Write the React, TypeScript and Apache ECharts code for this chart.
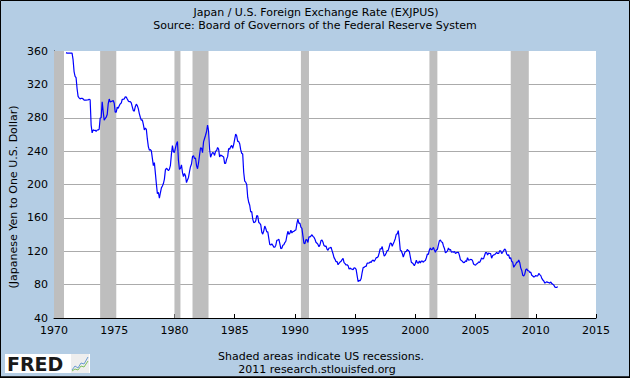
import React, { useEffect, useRef } from "react";
import * as echarts from "echarts";

// Monthly Japanese yen per U.S. dollar, Jan 1971 onward
const yen1971to1979 = [
  358.0, 357.5, 357.5, 357.5, 357.4, 357.4, 357.4, 349.6, 335.4, 329.6, 328.0, 314.8,
  305.6, 303.9, 302.6, 303.4, 303.2, 302.6, 301.1, 301.1, 301.2, 301.3, 301.4, 302.1,
  301.6, 271.2, 261.9, 265.5, 264.7, 265.0, 263.6, 265.3, 265.4, 266.3, 279.6, 280.0,
  299.0, 287.6, 277.1, 279.1, 280.6, 283.8, 296.6, 302.4, 298.8, 299.5, 299.9, 300.7,
  297.4, 286.6, 286.6, 292.6, 291.4, 294.3, 296.6, 297.6, 302.2, 302.1, 302.6, 305.2,
  304.7, 302.4, 300.2, 299.3, 299.3, 297.7, 293.1, 288.7, 287.8, 293.3, 296.2, 294.6,
  290.9, 285.0, 280.6, 277.0, 277.6, 272.0, 265.5, 267.6, 266.0, 254.6, 245.4, 241.2,
  241.9, 240.3, 231.4, 222.6, 226.2, 213.6, 200.6, 189.0, 190.7, 183.5, 190.1, 196.0,
  198.2, 201.1, 206.5, 217.6, 219.4, 218.3, 216.5, 218.4, 223.0, 236.4, 246.6, 239.3,
];
const yen1980s = [
  238.4, 243.8, 248.7, 251.6, 228.8, 218.0, 219.4, 223.5, 214.3, 209.6, 213.2, 210.6,
  202.2, 205.5, 208.5, 215.3, 221.3, 224.6, 233.5, 234.4, 231.1, 231.8, 222.7, 218.9,
  225.8, 235.2, 244.0, 243.5, 238.2, 251.1, 255.1, 259.0, 263.5, 271.3, 264.1, 242.5,
  232.7, 236.0, 238.3, 237.7, 234.8, 240.1, 240.5, 244.4, 242.5, 233.1, 235.2, 234.6,
  233.9, 233.1, 225.4, 225.2, 230.4, 233.4, 243.1, 242.2, 245.2, 246.9, 243.3, 247.9,
  254.2, 260.5, 258.4, 251.7, 251.6, 248.9, 241.7, 237.5, 236.5, 214.7, 204.1, 202.8,
  200.1, 184.8, 178.7, 175.1, 167.0, 167.5, 158.6, 154.2, 154.7, 156.5, 162.8, 162.1,
  154.5, 153.5, 151.6, 142.9, 140.5, 144.5, 150.2, 147.3, 143.3, 143.3, 135.4, 128.0,
  127.4, 129.0, 127.1, 124.9, 124.8, 127.2, 133.1, 133.5, 134.4, 129.1, 123.2, 123.6,
  127.2, 127.8, 130.4, 132.0, 138.4, 143.9, 140.4, 141.5, 145.1, 141.9, 143.5, 143.7,
];
const yen1990s = [
  145.1, 145.5, 153.2, 158.5, 153.5, 153.7, 149.0, 147.5, 138.4, 129.6, 129.2, 133.9,
  133.7, 130.5, 137.4, 137.1, 138.2, 139.8, 137.8, 136.8, 134.3, 130.8, 129.6, 128.1,
  125.5, 127.6, 132.8, 133.5, 130.8, 126.8, 125.9, 126.3, 122.6, 121.1, 123.9, 123.9,
  125.0, 120.8, 117.0, 112.4, 110.3, 107.4, 107.7, 103.8, 105.6, 107.0, 107.9, 109.9,
  111.4, 106.3, 105.1, 103.5, 103.8, 102.7, 98.5, 99.9, 98.8, 98.4, 98.0, 100.2,
  99.8, 98.2, 90.8, 83.7, 85.1, 84.5, 87.2, 94.5, 100.3, 100.7, 101.9, 101.9,
  105.8, 105.7, 105.9, 107.4, 106.5, 108.8, 109.3, 107.8, 109.8, 112.3, 112.3, 113.7,
  117.9, 123.0, 122.8, 125.6, 119.1, 114.3, 115.4, 117.9, 120.9, 121.1, 125.4, 129.7,
  129.6, 125.9, 129.1, 131.8, 135.0, 140.3, 140.8, 144.7, 134.5, 121.3, 120.6, 117.4,
  113.1, 116.7, 119.7, 119.7, 122.1, 120.8, 119.8, 113.2, 106.9, 106.0, 104.7, 102.6,
];
const yen2000s = [
  105.3, 109.4, 106.3, 105.6, 108.3, 106.1, 108.2, 108.1, 106.8, 108.4, 109.0, 112.2,
  116.7, 116.2, 121.5, 123.8, 121.8, 122.4, 124.6, 121.5, 118.9, 121.4, 122.4, 127.6,
  132.7, 133.6, 131.1, 130.8, 126.4, 123.3, 118.1, 119.0, 120.5, 123.9, 121.6, 122.2,
  118.7, 119.3, 118.7, 119.7, 117.4, 118.3, 118.7, 118.7, 114.8, 109.5, 109.2, 107.7,
  106.3, 106.7, 108.5, 107.7, 112.2, 109.4, 109.5, 110.2, 110.1, 108.8, 104.7, 103.8,
  103.3, 104.9, 105.3, 107.2, 106.6, 108.8, 112.0, 110.8, 111.2, 114.9, 118.5, 118.5,
  115.5, 117.9, 117.3, 117.1, 111.7, 114.6, 115.7, 115.9, 117.0, 118.7, 117.3, 117.3,
  120.5, 120.5, 117.3, 118.8, 120.8, 122.7, 121.4, 116.7, 115.0, 115.8, 111.1, 112.4,
  107.8, 107.0, 100.8, 102.7, 104.4, 106.9, 106.9, 109.4, 106.6, 100.1, 97.0, 91.3,
  90.4, 92.5, 97.8, 98.9, 96.6, 96.6, 94.5, 94.9, 91.3, 90.3, 89.2, 89.6,
];
const yen2010s = [
  91.1, 90.2, 90.7, 93.4, 92.0, 90.8, 87.5, 85.5, 84.3, 81.8, 82.6, 83.4,
  82.6, 82.5, 81.7, 83.2, 81.2, 80.5, 79.4, 77.1, 76.8, 76.7, 77.6,
];
const firstYear = 1971;

// Recession periods (decimal years)
const recessionStarts = [1970.0, 1973.83, 1980.0, 1981.5, 1990.5, 2001.17, 2007.92];
const recessionEnds = [1970.83, 1975.17, 1980.5, 1982.83, 1991.17, 2001.83, 2009.42];

const xMin = 1970;
const xMax = 2015;
const xStep = 5;
const yMin = 40;
const yMax = 360;
const yStep = 40;

const titleLines = [
  "Japan / U.S. Foreign Exchange Rate (EXJPUS)",
  "Source: Board of Governors of the Federal Reserve System",
];
const yAxisTitle = "(Japanese Yen to One U.S. Dollar)";
const footerLines = [
  "Shaded areas indicate US recessions.",
  "2011 research.stlouisfed.org",
];

const FONT = "DejaVu Sans";

export default function App() {
  const ref = useRef<HTMLDivElement>(null);

  useEffect(() => {
    if (!ref.current) return;
    const chart = echarts.init(ref.current, undefined, { renderer: "svg" });

    const monthly = [...yen1971to1979, ...yen1980s, ...yen1990s, ...yen2000s, ...yen2010s];
    const data = monthly.map((v, i) => [firstYear + i / 12, v]);
    const areas = recessionStarts.map((s, i) => [{ xAxis: s }, { xAxis: recessionEnds[i] }]);

    const txt = (text: string, x: number, y: number, extra: any = {}) => ({
      type: "text",
      x,
      y,
      ...extra,
      style: {
        text,
        fontFamily: FONT,
        fontSize: 11,
        fill: "#000",
        align: "center",
        verticalAlign: "middle",
      },
    });

    chart.setOption({
      animation: false,
      backgroundColor: "#B4CDE4",
      grid: {
        left: 54,
        right: 34,
        top: 51,
        bottom: 60,
        show: true,
        backgroundColor: "#FFFFFF",
        borderWidth: 0,
        containLabel: false,
      },
      xAxis: {
        type: "value",
        min: xMin,
        max: xMax,
        interval: xStep,
        axisLine: { show: true, onZero: false, lineStyle: { color: "#000", width: 1 } },
        axisTick: { show: true, inside: true, length: 4, lineStyle: { color: "#000" } },
        axisLabel: {
          color: "#000",
          fontFamily: FONT,
          fontSize: 11,
          margin: 7,
          formatter: (v: number) => String(v),
        },
        splitLine: { show: false },
      },
      yAxis: {
        type: "value",
        min: yMin,
        max: yMax,
        interval: yStep,
        axisLine: { show: true, lineStyle: { color: "#000", width: 1 } },
        axisTick: { show: true, inside: true, length: 5, lineStyle: { color: "#000" } },
        axisLabel: { color: "#000", fontFamily: FONT, fontSize: 11, margin: 6 },
        splitLine: {
          show: true,
          showMinLine: false,
          showMaxLine: false,
          lineStyle: { color: "#ABABAB", width: 1 },
        },
      },
      series: [
        {
          type: "line",
          data,
          showSymbol: false,
          symbol: "none",
          lineStyle: { color: "#0000FF", width: 1.2 },
          z: 3,
          markArea: {
            silent: true,
            itemStyle: { color: "#BEBEBE", opacity: 1 },
            data: areas,
          },
        },
      ],
      graphic: [
        {
          type: "rect",
          shape: { x: 0.5, y: 0.5, width: 629, height: 376.5 },
          style: { fill: "none", stroke: "#000", lineWidth: 1 },
          z: 100,
        },
        {
          type: "rect",
          shape: { x: 0, y: 376.5, width: 630, height: 1.5 },
          style: { fill: "#000" },
          z: 100,
        },
        txt(titleLines[0], 316, 12),
        txt(titleLines[1], 315, 25.5),
        txt(yAxisTitle, 13, 197, { rotation: Math.PI / 2 }),
        txt(footerLines[0], 321, 356),
        txt(footerLines[1], 317, 369.5),
        // FRED logo
        {
          type: "rect",
          shape: { x: 5, y: 354, width: 85, height: 19 },
          style: { fill: "#FFFFFF" },
        },
        {
          type: "text",
          x: 7,
          y: 364,
          style: {
            text: "FRED",
            fontFamily: FONT,
            fontWeight: "bold",
            fontSize: 19,
            fill: "#1A1A1A",
            align: "left",
            verticalAlign: "middle",
          },
        },
        {
          type: "rect",
          shape: { x: 71, y: 354, width: 18, height: 19 },
          style: { fill: "#EEEEEE" },
        },
        {
          type: "polyline",
          shape: { points: [[72, 370], [75, 366], [78, 368], [81, 363], [84, 364], [88, 357]] },
          style: { stroke: "#6A9BD1", lineWidth: 1, fill: "none" },
        },
        {
          type: "polyline",
          shape: { points: [[72, 371], [75, 369], [78, 370], [81, 366], [84, 367], [88, 361]] },
          style: { stroke: "#7FBF5F", lineWidth: 1, fill: "none" },
        },
      ],
    });

    return () => chart.dispose();
  }, []);

  return (
    <div
      ref={ref}
      style={{ position: "fixed", left: 0, top: 0, width: 630, height: 378 }}
    />
  );
}
